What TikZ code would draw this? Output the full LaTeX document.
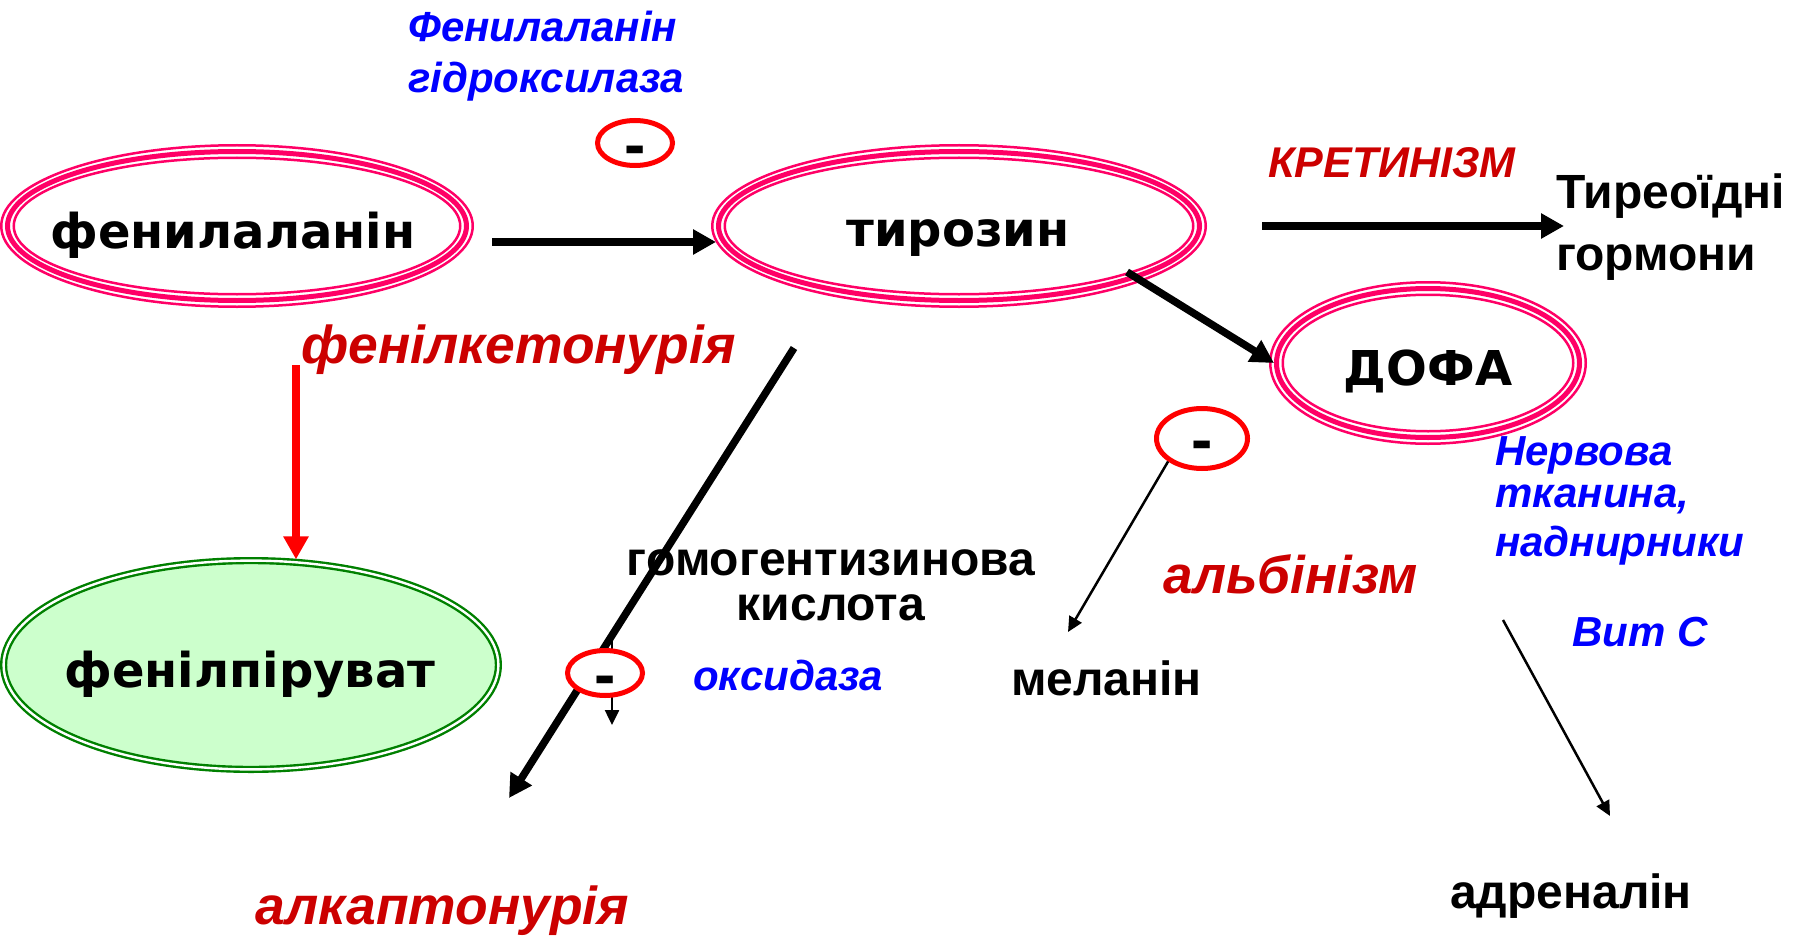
\documentclass[tikz,border=0pt]{standalone}
\usepackage{fontspec}
\usetikzlibrary{shapes.geometric,arrows.meta}
\newfontfamily\labelfont{Liberation Sans}
\newfontfamily\molfont{DejaVu Sans}
\definecolor{ringpink}{RGB}{255,0,102}
\definecolor{dred}{RGB}{204,0,0}
\definecolor{eblue}{RGB}{0,0,255}
\definecolor{pgreen}{RGB}{0,128,0}
\definecolor{pfill}{RGB}{204,255,204}
\newcommand\fsz[1]{\fontsize{#1}{#1}\selectfont}
% thin outer and inner rings around a thick-bordered ellipse node
\newcommand\ringpair[3]{%
  \draw[ringthin] (#1.center) ellipse [x radius={#2pt-1.25pt}, y radius={#3pt-1.25pt}];
  \draw[ringthin] (#1.center) ellipse [x radius={#2pt-13.75pt}, y radius={#3pt-13.75pt}];}
\begin{document}
\begin{tikzpicture}[x=1pt,y=-1pt,
  ringnode/.style={ellipse, draw=ringpink, line width=5pt, inner sep=0pt},
  ringthin/.style={draw=ringpink, line width=2.5pt},
  molname/.style={inner sep=0pt, anchor=base, font=\molfont\bfseries\fsz{48}},
  lbl/.style={inner sep=0pt, anchor=base west, font=\labelfont\bfseries\fsz{48}},
  lblc/.style={lbl, anchor=base},
  enz/.style={inner sep=0pt, anchor=base west, text=eblue, font=\labelfont\bfseries\itshape\fsz{42}},
  dis/.style={inner sep=0pt, anchor=base west, text=dred, font=\labelfont\bfseries\itshape\fsz{53.4}},
  blocknode/.style={ellipse, draw=red, fill=white, line width=5pt, inner sep=0pt},
  minussign/.style={inner sep=0pt, anchor=base, font=\labelfont\bfseries\fsz{64}},
  bigarrow/.style={line width=7.5pt, -{Triangle[length=23pt,width=24pt]}},
  thinarrow/.style={line width=2.5pt, -{Triangle[length=15pt,width=14pt]}},
]
\useasboundingbox (0,0) rectangle (1801,936);

% metabolites
\node[ringnode, minimum width=459pt, minimum height=149pt] (phe) at (237,226) {};
\ringpair{phe}{237}{82}
\node[ringnode, minimum width=481pt, minimum height=149pt] (tyr) at (959,226) {};
\ringpair{tyr}{248}{82}
\node[ringnode, minimum width=303pt, minimum height=149pt] (dopa) at (1428,363) {};
\ringpair{dopa}{159}{82}
\node[ellipse, draw=pgreen, line width=2.4pt, double=white, double distance=2.4pt,
      fill=pfill, inner sep=0pt, minimum width=494.8pt, minimum height=208.8pt] (ppv) at (251,665) {};

\node[molname] (phe-l) at (233,248) {фенилаланін};
\node[molname] (tyr-l) at (958,247) {тирозин};
\node[molname] (dopa-l) at (1428,385) {ДОФА};
\node[molname] (ppv-l) at (250,687) {фенілпіруват};

% reactions
\coordinate (a1s) at (492,242);
\draw[bigarrow] (a1s) -- (tyr.west |- a1s);
\coordinate (a2s) at (1262,226);
\coordinate (a2e) at (1564,226);
\draw[bigarrow] (a2s) -- (a2e);
\coordinate (a3s) at (1127,272);
\draw[bigarrow] (a3s) -- (dopa.west);
\coordinate (a4s) at (296,365);
\draw[bigarrow, red] (a4s) -- (a4s |- ppv.north);
\coordinate (a5s) at (794,348);
\coordinate (a5e) at (509,798);
\draw[bigarrow] (a5s) -- (a5e);
\coordinate (a6s) at (612,640);
\coordinate (a6e) at (612,725);
\draw[thinarrow] (a6s) -- (a6e);

% enzyme blocks
\node[blocknode, minimum width=75pt, minimum height=45pt] (m1) at (635,143) {};
\node[minussign] (m1-l) at (635,167) {-};
\node[blocknode, minimum width=75pt, minimum height=45pt] (m2) at (605,673) {};
\node[minussign] (m2-l) at (605,696) {-};
\node[blocknode, minimum width=91pt, minimum height=60pt] (m3) at (1202,438.5) {};
\node[minussign] (m3-l) at (1202,461) {-};

\coordinate (a7e) at (1068,632);
\draw[thinarrow] (m3.south west) -- (a7e);
\coordinate (a8s) at (1503,620);
\coordinate (a8e) at (1610,816);
\draw[thinarrow] (a8s) -- (a8e);

% labels
\node[enz] (pah1) at (408,42) {Фенилаланін};
\node[enz] (pah2) at (408,93) {гідроксилаза};
\node[dis, font=\labelfont\bfseries\itshape\fsz{43}] (kret) at (1268,178) {КРЕТИНІЗМ};
\node[lbl] (thy1) at (1556,208) {Тиреоїдні};
\node[lbl] (thy2) at (1556,270) {гормони};
\node[dis] (pku) at (301,363) {фенілкетонурія};
\node[lblc] (hga1) at (831,575) {гомогентизинова};
\node[lblc] (hga2) at (831,620) {кислота};
\node[enz] (oxi) at (693,690) {оксидаза};
\node[lbl] (mel) at (1011,695) {меланін};
\node[dis, font=\labelfont\bfseries\itshape\fsz{53}] (alb) at (1163,593) {альбінізм};
\node[enz] (ner1) at (1495,465) {Нервова};
\node[enz] (ner2) at (1495,507) {тканина,};
\node[enz] (ner3) at (1495,556) {наднирники};
\node[enz] (vitc) at (1572,646) {Вит С};
\node[lbl] (adr) at (1450,908) {адреналін};
\node[dis] (alk) at (255,924) {алкаптонурія};
\end{tikzpicture}
\end{document}
